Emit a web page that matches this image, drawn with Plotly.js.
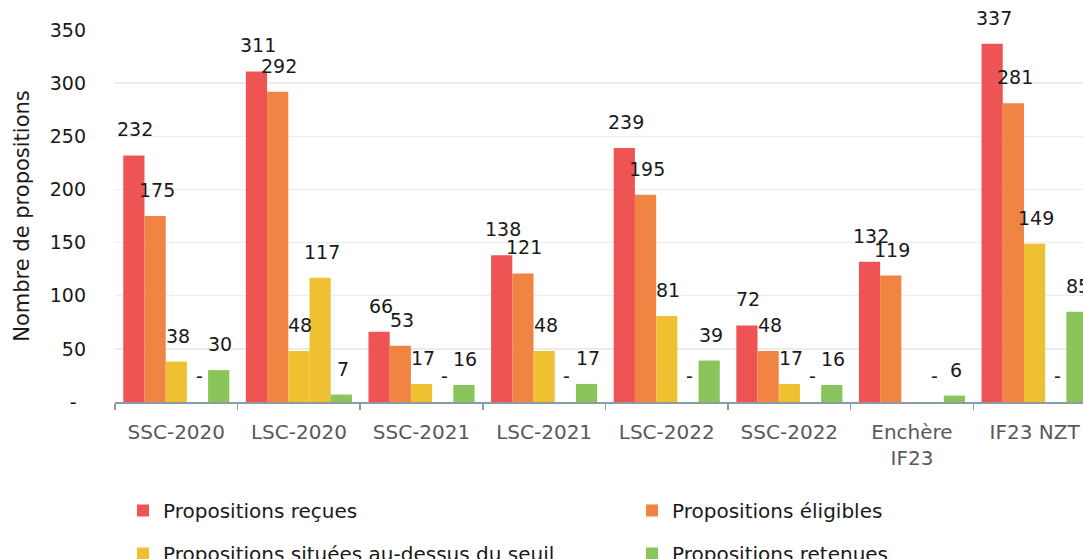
<!DOCTYPE html>
<html lang="fr">
<head>
<meta charset="utf-8">
<title>Propositions par appel d'offres</title>
<script src="https://cdn.plot.ly/plotly-3.0.1.min.js"></script>
<style>
  html, body { margin: 0; padding: 0; background: #fff; }
  #chart { width: 1083px; height: 559px; }
</style>
</head>
<body>
<div id="chart"></div>
<script>
// ---- data ----
const categories = ["SSC-2020", "LSC-2020", "SSC-2021", "LSC-2021", "LSC-2022", "SSC-2022", "Enchère<br>IF23", "IF23 NZT"];
const recues = [232, 311, 66, 138, 239, 72, 132, 337];
const eligibles = [175, 292, 53, 121, 195, 48, 119, 281];
const auDessusSeuil = [38, 48, 17, 48, 81, 17, null, 149];
const auDessusSeuil2 = [0, 117, 0, 0, 0, 0, 0, 0];
const retenues = [30, 7, 16, 17, 39, 16, 6, 85];
const yTickVals = [0, 50, 100, 150, 200, 250, 300, 350];
// accounting style: zero as "-" with a trailing pad
const yTickText = ["-\u2002", "50", "100", "150", "200", "250", "300", "350"];

// each visible legend entry gets its own legend box (2 x 2 grid like Excel)
const series = [
  { name: "Propositions reçues", y: recues, color: "#EF5454", legend: "legend" },
  { name: "Propositions éligibles", y: eligibles, color: "#F08442", legend: "legend2" },
  { name: "Propositions situées au-dessus du seuil", y: auDessusSeuil, color: "#F0C033", legend: "legend3" },
  { name: "Propositions situées au-dessus du seuil (2)", y: auDessusSeuil2, color: "#F0C033", legend: "legend3", hide: true },
  { name: "Propositions retenues", y: retenues, color: "#89C55A", legend: "legend4" }
];

// ---- geometry ----
const W = 1083, H = 559;
const margin = { l: 115, r: 0, t: 30, b: 157, autoexpand: false };
const xRange = [-0.5, 7.395];
const bargap = 0.135;
const plotW = W - margin.l - margin.r;
const plotH = H - margin.t - margin.b;
const catPx = plotW / (xRange[1] - xRange[0]);
const barPx = catPx * (1 - bargap) / series.length;

const FONT = "DejaVu Sans, Verdana, sans-serif";

const traces = series.map(s => ({
  type: "bar",
  name: s.name,
  x: categories,
  y: s.y,
  marker: { color: s.color, line: { width: 0 } },
  legend: s.legend,
  showlegend: !s.hide,
  hovertemplate: "%{x}<br>" + s.name + " : %{y}<extra></extra>"
}));

// data labels (Excel style: 0 shown as "-")
const annotations = [];
series.forEach((s, k) => {
  s.y.forEach((v, i) => {
    if (v === null) return;
    annotations.push({
      x: categories[i],
      y: v,
      xref: "x",
      yref: "y",
      text: v === 0 ? "-" : String(v),
      showarrow: false,
      yanchor: "bottom",
      xshift: (k - (series.length - 1) / 2) * barPx + 1.5,
      yshift: 13,
      font: { family: FONT, size: 19, color: "#1a1a1a" }
    });
  });
});

// legend box placed by pixel position
function legendAt(px, py) {
  return {
    orientation: "h",
    xref: "paper",
    yref: "paper",
    x: (px - margin.l) / plotW,
    y: (margin.t + plotH - py) / plotH,
    xanchor: "left",
    yanchor: "middle",
    bgcolor: "rgba(0,0,0,0)",
    font: { family: FONT, size: 20, color: "#1a1a1a" },
    itemclick: false,
    itemdoubleclick: false
  };
}

const layout = {
  width: W,
  height: H,
  margin: margin,
  paper_bgcolor: "#fff",
  plot_bgcolor: "#fff",
  font: { family: FONT, size: 19, color: "#1a1a1a" },
  barmode: "group",
  bargap: bargap,
  bargroupgap: 0,
  xaxis: {
    type: "category",
    range: xRange,
    automargin: false,
    showline: true,
    linecolor: "#8A9BA6",
    linewidth: 1.5,
    ticks: "outside",
    tickson: "boundaries",
    ticklen: 6,
    tickwidth: 1.5,
    tickcolor: "#8A9BA6",
    ticklabelstandoff: 11,
    tickfont: { family: FONT, size: 20, color: "#595959" },
    showgrid: false,
    fixedrange: true
  },
  yaxis: {
    range: [0, 350],
    automargin: false,
    tickvals: yTickVals,
    ticktext: yTickText,
    tickfont: { family: FONT, size: 19, color: "#1a1a1a" },
    ticklabelstandoff: 28,
    showgrid: true,
    gridcolor: "#ECECEC",
    gridwidth: 1.5,
    zeroline: false,
    showline: false,
    fixedrange: true,
    title: { text: "Nombre de propositions", standoff: 14, font: { family: FONT, size: 21, color: "#1a1a1a" } }
  },
  legend: legendAt(123, 510.5),
  legend2: legendAt(632, 510.5),
  legend3: legendAt(123, 553.5),
  legend4: legendAt(632, 553.5),
  annotations: annotations
};

Plotly.newPlot("chart", traces, layout, { displayModeBar: false, staticPlot: true });
</script>
</body>
</html>
